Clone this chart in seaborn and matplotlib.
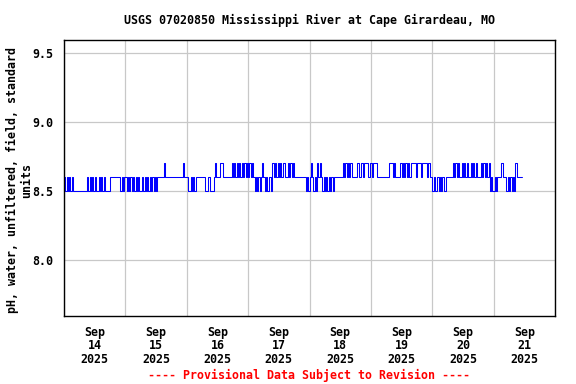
import pandas as pd
import seaborn as sns
import matplotlib.pyplot as plt
import matplotlib.dates as mdates


# pH readings at 30-minute steps, one string per day.
# each digit = tenths of a pH unit above 8.0 (5 -> 8.5, 6 -> 8.6, 7 -> 8.7)
sep14 = "65656" "565" "5555555555" "6565656" "55" "656565" "555" "66666666" "5656"
sep15 = "6565656565" "6556565656" "56565" "66666" "76" "6666666666666" "7" "6" "6"
sep16 = "65565656" "666666" "5556555" "6" "7" "666" "77" "666666" "67676767676767"
sep17 = "6767" "656565676565665767" "676767766767676" "66666666" "565"
sep18 = "676565" "7676" "5656565656" "66666" "67676767" "6666" "77677677767"
sep19 = "767776" "66666666" "77767" "666" "676767676" "7777677767777676" "6"
sep20 = "565565656556" "666" "676767667676766767676667676767" "565"
sep21 = "565" "6667666" "5656565" "7" "66666"

days = [sep14, sep15, sep16, sep17, sep18, sep19, sep20, sep21]
codes = "".join(days)

start = pd.Timestamp("2025-09-14 00:00")
end = pd.Timestamp("2025-09-22 00:00")
y_ticks = [8.0, 8.5, 9.0, 9.5]

df = pd.DataFrame({
    "time": pd.date_range(start, periods=len(codes), freq="30min"),
    "ph": [8.0 + int(c) / 10 for c in codes],
})


sns.set_style("white")
plt.rcParams["font.family"] = ["DejaVu Sans Mono"]
plt.rcParams["font.weight"] = "bold"
plt.rcParams["text.color"] = "black"
plt.rcParams["xtick.color"] = "black"
plt.rcParams["ytick.color"] = "black"
fs = 8.4

fig = plt.figure(figsize=(5.76, 3.84), dpi=100)
ax = fig.add_axes([64 / 576, 1 - 316 / 384, 491 / 576, 276 / 384])

sns.lineplot(data=df, x="time", y="ph", ax=ax, color="#0000ff",
             linewidth=0.75, drawstyle="steps-post")

ax.set_xlim(start, end)
ax.set_ylim(7.594, 9.594)
ax.set_yticks(y_ticks)
ax.set_yticklabels([f"{v:.1f}" for v in y_ticks])

ax.xaxis.set_major_locator(mdates.HourLocator(byhour=12))
ax.xaxis.set_major_formatter(mdates.DateFormatter("%b\n%d\n%Y"))
ax.xaxis.set_minor_locator(mdates.DayLocator())

ax.grid(False)
ax.grid(True, which="minor", axis="x", color="#c8c8c8", linewidth=0.9)
ax.grid(True, which="major", axis="y", color="#c8c8c8", linewidth=0.9)
ax.set_axisbelow(True)

ax.tick_params(which="both", length=0)
ax.tick_params(axis="y", pad=8, labelsize=fs, labelcolor="black")
ax.tick_params(axis="x", pad=7, labelsize=fs, labelcolor="black")
for lbl in ax.get_xticklabels():
    lbl.set_multialignment("center")
    lbl.set_linespacing(1.05)

for s in ax.spines.values():
    s.set_color("black")
    s.set_linewidth(1.0)

ax.set_xlabel("")
ax.set_ylabel("")

fig.text(309.5 / 576, 1 - 20 / 384,
         "USGS 07020850 Mississippi River at Cape Girardeau, MO",
         ha="center", va="center", fontsize=fs, fontweight="bold", color="black")
fig.text(19.5 / 576, 1 - 180 / 384,
         "pH, water, unfiltered, field, standard\nunits",
         rotation=90, ha="center", va="center", multialignment="center",
         fontsize=fs, fontweight="bold", linespacing=1.05, color="black")
fig.text(308.5 / 576, 1 - 375 / 384,
         "---- Provisional Data Subject to Revision ----",
         ha="center", va="center", fontsize=fs, fontweight="bold", color="red")

fig.savefig("out.png", dpi=100)
